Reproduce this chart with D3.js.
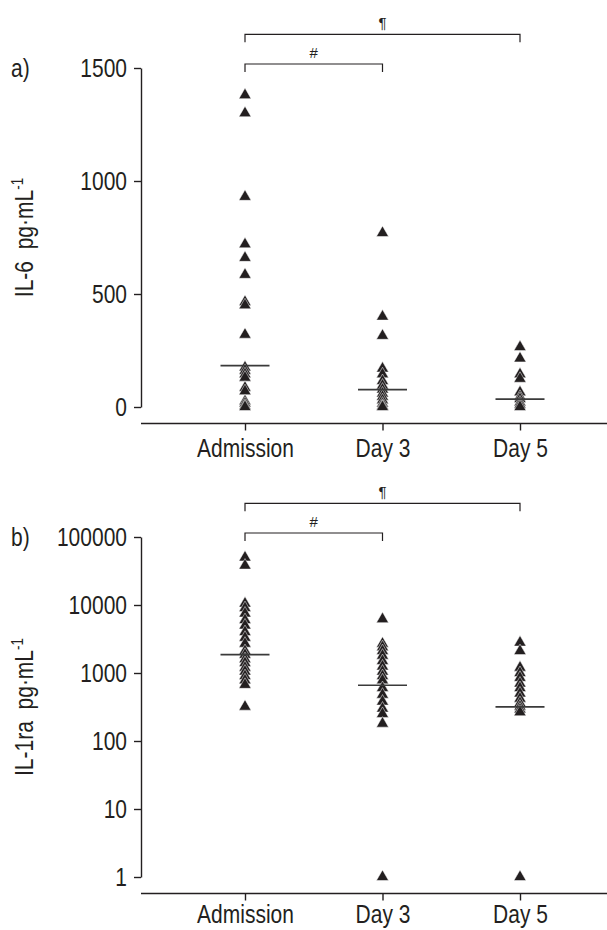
<!DOCTYPE html>
<html>
<head>
<meta charset="utf-8">
<script src="https://cdn.jsdelivr.net/npm/d3@7"></script>
<style>
  body { margin: 0; background: #fff; }
  svg { display: block; }
  text { font-family: "Liberation Sans", Arial, Helvetica, sans-serif; fill: #231f20; }
</style>
</head>
<body>
<svg id="chart" width="607" height="930"></svg>
<script>
(function(){
    'use strict';

    // groups on the x axis
    const categories = ["Admission", "Day 3", "Day 5"];

    // panel a) IL-6, pg/mL (read off the picture)
    const il6Admission = [1380, 1300, 930, 720, 660, 585, 465, 450, 320, 175, 160, 145, 130, 85, 70, 25, 15, 5, 0];
    const il6Day3 = [770, 400, 315, 170, 145, 115, 95, 77, 60, 45, 30, 15, 5, 0];
    const il6Day5 = [265, 215, 145, 125, 65, 45, 35, 20, 10, 0];
    const il6Medians = [183, 77, 35];
    const il6Ticks = [0, 500, 1000, 1500];

    // panel b) IL-1ra, pg/mL (log axis)
    const il1raAdmission = [50000, 38000, 10500, 9000, 7500, 6000, 5000, 4000, 3300, 2700, 2100, 1850, 1600, 1400, 1200, 1050, 900, 780, 670, 320];
    const il1raDay3 = [6200, 2700, 2400, 2100, 1800, 1500, 1250, 1050, 900, 780, 600, 480, 380, 300, 250, 180, 1];
    const il1raDay5 = [2800, 2100, 1200, 1000, 850, 700, 600, 500, 420, 360, 320, 290, 265, 1];
    const il1raMedians = [1860, 660, 318];
    const il1raTicks = [1, 10, 100, 1000, 10000, 100000];

    const ink = "#231f20";
    const SQ = 0.84; // narrow the font a bit, the original is condensed

    const svg = d3.select("#chart");

    const x = d3.scalePoint().domain(categories).range([245, 520]);
    const tri = d3.symbol().type(d3.symbolTriangle).size(64);

    function squeeze(sel) {
        sel.each(function() {
            const t = d3.select(this);
            const tx = +t.attr("x") || 0;
            t.attr("x", tx / SQ).attr("transform", "scale(" + SQ + ",1)");
        });
    }

    function drawPanel(opt) {
        const g = svg.append("g");
        const y = opt.y;
        const y0 = y.range()[0], y1 = y.range()[1];
        const axisY = y0 + opt.axisGap;

        // y axis
        const ya = g.append("g")
            .attr("transform", "translate(141,0)")
            .call(d3.axisLeft(y).tickValues(opt.ticks).tickFormat(d3.format("d"))
                .tickSize(7).tickPadding(7).tickSizeOuter(0));
        ya.selectAll("path, line").attr("stroke", ink).attr("stroke-width", 1.4);
        ya.selectAll("text").attr("font-size", 25).attr("fill", ink)
            .style("font-family", "'Liberation Sans', Arial, sans-serif").call(squeeze);

        // x axis
        const xa = g.append("g")
            .attr("transform", "translate(0," + axisY + ")")
            .call(d3.axisBottom(x).tickSize(7).tickPadding(opt.labelPad));
        xa.select(".domain").remove();
        xa.append("line").attr("x1", 141).attr("x2", 607)
            .attr("stroke", ink).attr("stroke-width", 1.4);
        xa.selectAll("line").attr("stroke", ink).attr("stroke-width", 1.4);
        xa.selectAll("text").attr("font-size", 25).attr("fill", ink)
            .style("font-family", "'Liberation Sans', Arial, sans-serif").call(squeeze);

        // points
        opt.series.forEach(function(vals, i) {
            g.append("g").selectAll("path")
                .data(vals)
                .join("path")
                .attr("d", tri)
                .attr("transform", d => "translate(" + x(categories[i]) + "," + y(d) + ")")
                .attr("fill", ink)
                .attr("stroke", "#fff")
                .attr("stroke-width", 0.5);
        });

        // medians
        g.append("g").selectAll("line")
            .data(opt.medians)
            .join("line")
            .attr("x1", (d, i) => x(categories[i]) - 24.5)
            .attr("x2", (d, i) => x(categories[i]) + 24.5)
            .attr("y1", d => y(d))
            .attr("y2", d => y(d))
            .attr("stroke", "#3a3a3a")
            .attr("stroke-width", 1.6);

        // significance brackets
        const top = y1 - 33.7;
        const brackets = [
            { to: "Day 5", y: top, mark: "\u00b6" },
            { to: "Day 3", y: top + 29.7, mark: "#" }
        ];
        brackets.forEach(function(b) {
            const xa0 = x("Admission"), xb = x(b.to);
            g.append("path")
                .attr("d", "M" + xa0 + "," + (b.y + 8) + "V" + b.y + "H" + xb + "V" + (b.y + 8))
                .attr("fill", "none").attr("stroke", ink).attr("stroke-width", 1.2);
            g.append("text")
                .attr("x", (xa0 + xb) / 2).attr("y", b.y - 6)
                .attr("text-anchor", "middle")
                .attr("font-size", 15)
                .text(b.mark);
        });

        // panel letter
        g.append("text").attr("x", 11).attr("y", y1 + 9)
            .attr("font-size", 25).text(opt.letter).call(squeeze);

        // y label
        const lab = g.append("text")
            .attr("transform", "translate(33," + ((y0 + y1) / 2) + ") rotate(-90) scale(" + SQ + ",1)")
            .attr("text-anchor", "middle")
            .attr("font-size", 25);
        lab.append("tspan").text(opt.label + "\u00a0\u00a0pg\u00b7mL");
        lab.append("tspan").attr("font-size", 16).attr("dy", -10).text("-1");
    }

    drawPanel({
        y: d3.scaleLinear().domain([0, 1500]).range([407, 68]),
        ticks: il6Ticks,
        series: [il6Admission, il6Day3, il6Day5],
        medians: il6Medians,
        axisGap: 16.5,
        labelPad: 9,
        letter: "a)",
        label: "IL-6"
    });

    drawPanel({
        y: d3.scaleLog().domain([1, 100000]).range([877, 537]),
        ticks: il1raTicks,
        series: [il1raAdmission, il1raDay3, il1raDay5],
        medians: il1raMedians,
        axisGap: 16.5,
        labelPad: 5,
        letter: "b)",
        label: "IL-1ra"
    });
})();
</script>
</body>
</html>
